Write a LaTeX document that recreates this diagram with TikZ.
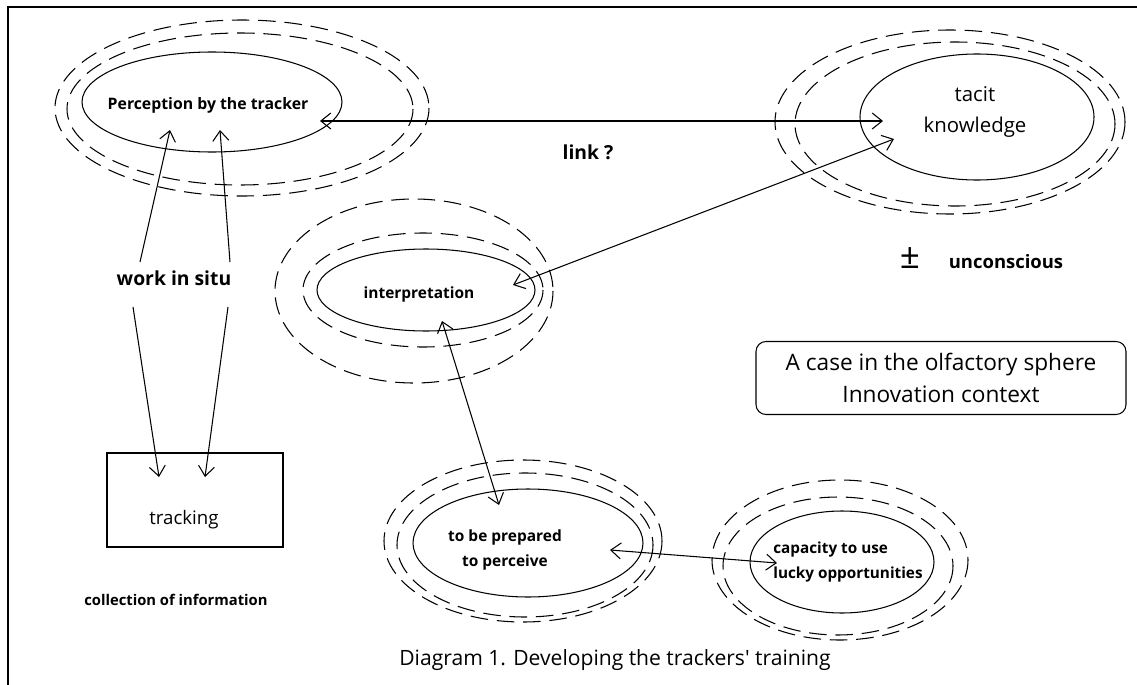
\documentclass[tikz,border=0pt]{standalone}
\usepackage{fontspec}
\setmainfont{Open Sans}[Ligatures=TeXOff]
\usepackage{tikz}
\usetikzlibrary{arrows.meta, positioning, calc}

\begin{document}
\begin{tikzpicture}[
    x=0.2mm, y=-0.2mm,
    zone/.style={line width=0.6pt},
    halo/.style={line width=0.6pt, dash pattern=on 10pt off 5pt},
    heavytxt/.style 2 args={font=\bfseries\fontsize{#1}{#2}\selectfont, align=center, inner sep=1pt},
    plaintxt/.style 2 args={font=\fontsize{#1}{#2}\selectfont, align=center, inner sep=1pt},
    both/.style={{Straight Barb[length=2mm,width=3.2mm]}-{Straight Barb[length=2mm,width=3.2mm]}, line width=0.6pt},
    tip/.style={-{Straight Barb[length=2mm,width=3.2mm]}, line width=0.6pt}
]
    \useasboundingbox (0,0) rectangle (1137,685);
    % Frame
    \draw[line width=1.1pt] (8,685) -- (8,7) -- (1137,7);

    % Texts of the zones
    \node[heavytxt={9}{12}] (percep) at (208,105) {Perception by the tracker};
    \node[plaintxt={11.6}{17.6}] (tacit) at (975,112) {tacit\\knowledge};
    \node[heavytxt={8.8}{12}] (interp) at (419,294) {interpretation};
    \node[heavytxt={8.8}{14}] (prep) at (505,550) {to be prepared\\to perceive};
    \node[heavytxt={8.7}{14}, align=left] (luck) at (848,562) {capacity to use\\lucky opportunities};

    % Zones and their halos
    \draw[zone] (212,102) ellipse (130 and 50);
    \draw[halo] (240,109) ellipse (173 and 76);
    \draw[halo] (242,108) ellipse (187 and 88);

    \draw[zone] (977,117) ellipse (117 and 63);
    \draw[halo] (955,124) ellipse (160 and 82);
    \draw[halo] (950,122) ellipse (175 and 92);

    \draw[zone] (426,290) ellipse (109 and 41);
    \draw[halo] (423,290) ellipse (120 and 57);
    \draw[halo] (414,291) ellipse (139 and 92);

    \draw[zone] (528,543) ellipse (115 and 54);
    \draw[halo] (525,545) ellipse (128 and 72);
    \draw[halo] (523,541) ellipse (139 and 81);

    \draw[zone] (842,562) ellipse (92 and 51);
    \draw[halo] (838,566) ellipse (115 and 69);
    \draw[halo] (840,560) ellipse (128 and 80);

    % Tracking
    \node[draw, line width=0.6pt, minimum width=35.2mm, minimum height=18.8mm] (track) at (195,500) {};
    \node[plaintxt={10.6}{12}] (tracktxt) at (184,520) {tracking};
    \node[heavytxt={8.4}{12}] (collect) at (176,600) {collection of information};

    % Other labels
    \node[heavytxt={11}{13}] (situ) at (174,278) {work in situ};
    \node[heavytxt={11}{13}] (link) at (588,152) {link ?};
    \node[plaintxt={20}{20}] (pm) at (910,258) {±};
    \node[heavytxt={10.5}{13}] (uncon) at (1006,262) {unconscious};
    \node[draw, rounded corners=2mm, line width=0.6pt, minimum width=74mm, minimum height=14.6mm,
          plaintxt={12.9}{18}] (case) at (941,378) {A case in the olfactory sphere\\Innovation context};
    \node[plaintxt={12}{14}] (caption) at (615,660) {Diagram 1. Developing the trackers' training};

    % Arrow ends
    \coordinate (percepL) at (170,130);
    \coordinate (percepR) at (220,130);
    \coordinate (percepE) at (320,121);
    \coordinate (tacitW) at (883,121);
    \coordinate (tacitS) at (894,139);
    \coordinate (interpE) at (513,285);
    \coordinate (interpS) at (442,321);
    \coordinate (prepN) at (499,505);
    \coordinate (prepE) at (610,550);
    \coordinate (luckW) at (777,563);
    \coordinate (trackL) at (159,477);
    \coordinate (trackR) at (205,477);

    % Arrows
    \draw[tip] ($(situ)+(-34,-16)$) -- (percepL);
    \draw[tip] ($(situ)+(56,-16)$) -- (percepR);
    \draw[tip] ($(situ)+(-41,29)$) -- (trackL);
    \draw[tip] ($(situ)+(54,29)$) -- (trackR);
    \draw[both] (percepE) -- (tacitW);
    \draw[both] (interpE) -- (tacitS);
    \draw[both] (interpS) -- (prepN);
    \draw[both] (prepE) -- (luckW);
\end{tikzpicture}
\end{document}
